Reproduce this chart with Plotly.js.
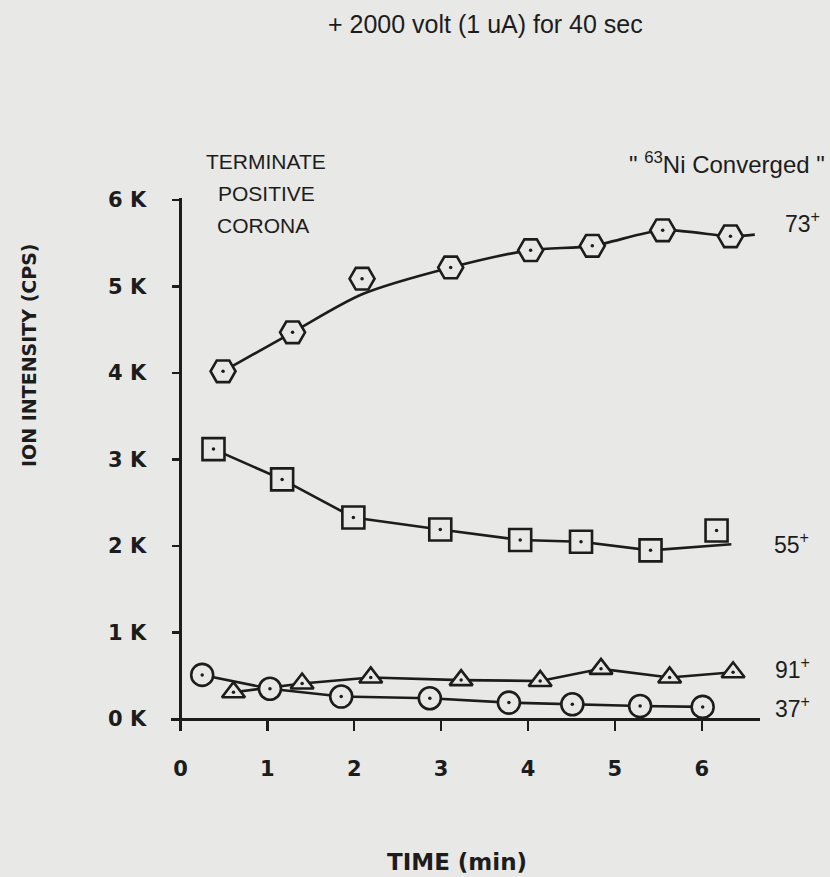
<!DOCTYPE html>
<html>
<head>
<meta charset="utf-8">
<script src="https://cdn.plot.ly/plotly-3.0.1.min.js"></script>
<style>
  html, body { margin: 0; padding: 0; background: #e8e8e6; }
  #chart { width: 830px; height: 877px; }
</style>
</head>
<body>
<div id="chart"></div>
<script>
// Ion intensity (thousands of counts per second) versus time after the
// positive corona was terminated, for four ions.

// 73+ ion (hexagons)
const time73 = [0.49, 1.29, 2.09, 3.11, 4.03, 4.74, 5.55, 6.33];
const ion73  = [4.02, 4.47, 5.09, 5.22, 5.42, 5.47, 5.65, 5.58];
// hand-drawn trend curve through the 73+ points
const curve73T = [0.49, 1.29, 2.09, 3.11, 4.03, 4.74, 5.55, 6.33, 6.61];
const curve73K = [4.02, 4.47, 4.91, 5.22, 5.42, 5.47, 5.65, 5.58, 5.60];

// 55+ ion (squares)
const time55 = [0.38, 1.17, 1.99, 2.99, 3.91, 4.61, 5.41, 6.17];
const ion55  = [3.12, 2.77, 2.33, 2.19, 2.07, 2.05, 1.95, 2.18];
// trend curve for 55+ (runs under the last point)
const curve55T = [0.38, 1.17, 1.99, 2.99, 3.91, 4.61, 5.41, 6.34];
const curve55K = [3.12, 2.77, 2.33, 2.19, 2.07, 2.05, 1.95, 2.02];

// 91+ ion (triangles)
const time91 = [0.61, 1.40, 2.19, 3.23, 4.14, 4.84, 5.63, 6.36];
const ion91  = [0.31, 0.41, 0.48, 0.45, 0.44, 0.58, 0.48, 0.54];

// 37+ ion (circles)
const time37 = [0.25, 1.03, 1.85, 2.87, 3.78, 4.51, 5.29, 6.01];
const ion37  = [0.51, 0.35, 0.26, 0.24, 0.19, 0.17, 0.15, 0.14];

// axis ticks
const xTickVals = [0, 1, 2, 3, 4, 5, 6];
const xTickText = ['0', '1', '2', '3', '4', '5', '6'];
const yTickVals = [0, 1, 2, 3, 4, 5, 6];
const yTickText = ['0 K', '1 K', '2 K', '3 K', '4 K', '5 K', '6 K'];

// series end labels (time, intensity in K)
const ionLabels = ['73<sup>+</sup>', '55<sup>+</sup>', '91<sup>+</sup>', '37<sup>+</sup>'];
const labelT    = [6.93, 6.81, 6.82, 6.82];
const labelK    = [5.74, 2.03, 0.59, 0.14];

const W = 830, H = 877;
const M = { l: 171, r: 70, t: 198, b: 147 };
const xRange = [-0.109, 6.67];
const yRange = [-0.127, 6.023];

const bg = '#e8e8e6';
const ink = '#1c1c1c';
const axisFont = { family: 'DejaVu Sans', size: 21, color: ink, weight: 'bold' };
const textFont = { family: 'Liberation Sans, Arial, sans-serif', color: ink };

// paper-fraction helpers for free text placement
const plotW = W - M.l - M.r, plotH = H - M.t - M.b;
const px = v => (v - M.l) / plotW;
const py = v => (H - M.b - v) / plotH;
// time value -> paper fraction (labels sit right of the x range)
const tx = t => (t - xRange[0]) / (xRange[1] - xRange[0]);

function lineTrace(x, y, shape) {
  return { x, y, type: 'scatter', mode: 'lines', hoverinfo: 'skip',
           line: { color: ink, width: 2.6, shape: shape || 'linear', smoothing: 0.8 } };
}
function markerTrace(x, y, symbol, size) {
  return { x, y, type: 'scatter', mode: 'markers', hoverinfo: 'skip',
           marker: { symbol, size, color: bg, line: { color: ink, width: 2.6 } } };
}

const data = [
  lineTrace(curve73T, curve73K, 'spline'),
  lineTrace(curve55T, curve55K, 'linear'),
  lineTrace(time91, ion91),
  lineTrace(time37, ion37),
  markerTrace(time73, ion73, 'hexagon2', 25),
  markerTrace(time55, ion55, 'square', 22),
  markerTrace(time91, ion91, 'triangle-up', 20),
  markerTrace(time37, ion37, 'circle', 22),
  // centre dots of every marker
  { x: [].concat(time73, time55, time91, time37),
    y: [].concat(ion73, ion55, ion91, ion37),
    type: 'scatter', mode: 'markers', hoverinfo: 'skip',
    marker: { symbol: 'circle', size: 3.5, color: ink } }
];

const annotations = [
  { text: '+ 2000 volt (1 uA) for 40 sec', x: px(485), y: py(24),
    font: Object.assign({ size: 25 }, textFont) },
  { text: 'TERMINATE', x: px(266), y: py(161), font: Object.assign({ size: 21 }, textFont) },
  { text: 'POSITIVE',  x: px(266), y: py(194), font: Object.assign({ size: 21 }, textFont) },
  { text: 'CORONA',    x: px(263), y: py(225), font: Object.assign({ size: 21 }, textFont) },
  { text: '" <sup>63</sup>Ni Converged "', x: px(727), y: py(163),
    font: Object.assign({ size: 24 }, textFont) },
  { text: 'ION INTENSITY (CPS)', x: px(29), y: py(355), textangle: -90,
    font: Object.assign({}, axisFont, { size: 19 }) },
  { text: 'TIME (min)', x: px(457), y: py(862),
    font: Object.assign({}, axisFont, { size: 23 }) }
].map(a => Object.assign({ xref: 'paper', yref: 'paper', xanchor: 'center',
                           yanchor: 'middle', showarrow: false }, a));

ionLabels.forEach((t, i) => annotations.push({
  text: t, x: tx(labelT[i]), y: labelK[i], xref: 'paper', yref: 'y',
  xanchor: 'left', yanchor: 'middle', showarrow: false,
  font: Object.assign({ size: 23 }, textFont)
}));

const layout = {
  width: W, height: H, margin: M,
  paper_bgcolor: bg, plot_bgcolor: 'rgba(0,0,0,0)',
  showlegend: false, hovermode: false,
  xaxis: {
    range: xRange, tickmode: 'array', tickvals: xTickVals, ticktext: xTickText,
    anchor: 'free', position: (0 - yRange[0]) / (yRange[1] - yRange[0]),
    showline: true, linecolor: ink, linewidth: 2.6,
    ticks: 'outside', ticklen: 10, tickwidth: 2.4, tickcolor: ink,
    ticklabelstandoff: 20, tickfont: axisFont,
    showgrid: false, zeroline: false, fixedrange: true
  },
  yaxis: {
    range: yRange, tickmode: 'array', tickvals: yTickVals, ticktext: yTickText,
    anchor: 'free', position: (0 - xRange[0]) / (xRange[1] - xRange[0]),
    showline: true, linecolor: ink, linewidth: 2.6,
    ticks: 'outside', ticklen: 7, tickwidth: 2.4, tickcolor: ink,
    ticklabelstandoff: 22, tickfont: axisFont,
    showgrid: false, zeroline: false, fixedrange: true
  },
  annotations
};

Plotly.newPlot('chart', data, layout, { staticPlot: true, displayModeBar: false });
</script>
</body>
</html>
